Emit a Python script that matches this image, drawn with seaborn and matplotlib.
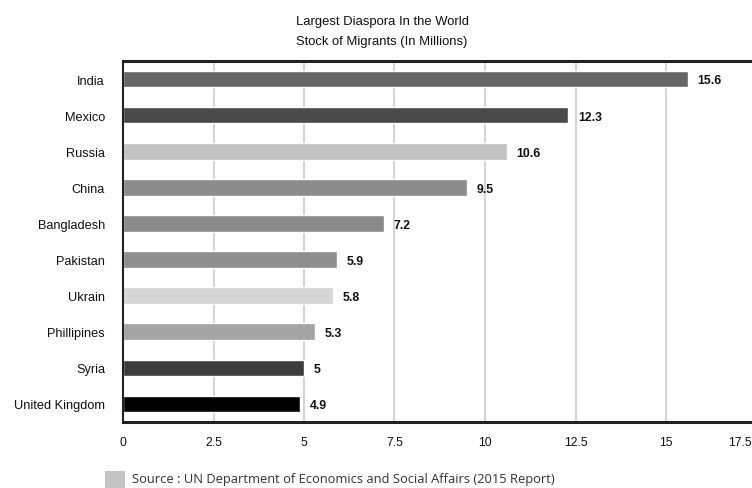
import matplotlib
matplotlib.use("Agg")
import matplotlib.pyplot as plt
from matplotlib.patches import Rectangle
from matplotlib.transforms import ScaledTranslation
import seaborn as sns
import pandas as pd
import numpy as np

countries = ["India", "Mexico", "Russia", "China", "Bangladesh", "Pakistan",
             "Ukrain", "Phillipines", "Syria", "United Kingdom"]
migrants = [15.6, 12.3, 10.6, 9.5, 7.2, 5.9, 5.8, 5.3, 5, 4.9]
value_labels = ["15.6", "12.3", "10.6", "9.5", "7.2", "5.9", "5.8", "5.3", "5", "4.9"]
x_ticks = [0, 2.5, 5, 7.5, 10, 12.5, 15, 17.5]
x_tick_labels = ["0", "2.5", "5", "7.5", "10", "12.5", "15", "17.5"]
bar_colors = ["#666666", "#4a4a4a", "#c2c2c2", "#8c8c8c", "#8a8a8a", "#8e8e8e",
              "#d6d6d6", "#a4a4a4", "#3d3d3d", "#000000"]

title_lines = ["Largest Diaspora In the World", "Stock of Migrants (In Millions)"]
source_text = "Source : UN Department of Economics and Social Affairs (2015 Report)"

df = pd.DataFrame({"country": countries, "value": migrants})

sns.set_style("white")
plt.rcParams["font.family"] = ["Liberation Sans", "DejaVu Sans"]

W, H = 752, 489
fig = plt.figure(figsize=(W / 100, H / 100), dpi=100)
ax = fig.add_axes([123 / W, 1 - 423 / H, (756.5 - 123) / W, (423 - 62) / H])

sns.barplot(data=df, y="country", x="value", hue="country", palette=bar_colors,
            order=countries, hue_order=countries, legend=False, width=0.46,
            orient="h", ax=ax, saturation=1)

ax.set_xlim(0, 17.5)
ax.set_ylim(len(countries) - 0.5, -0.5)
ax.set_xticks(x_ticks)
ax.set_xticklabels(x_tick_labels, fontsize=8.8, color="#111111")
ax.tick_params(axis="x", length=4, color="#cccccc", pad=6)
last = ax.get_xticklabels()[-1]
last.set_transform(last.get_transform() + ScaledTranslation(-17 / 100, 0, fig.dpi_scale_trans))
ax.set_yticks(range(len(countries)))
ax.set_yticklabels(countries, fontsize=9.2, color="#111111")
ax.tick_params(axis="y", which="major", length=0, pad=13)
ax.set_yticks(np.arange(-0.5, len(countries), 1), minor=True)
ax.tick_params(axis="y", which="minor", length=6, color="#dddddd", width=1)
ax.set_xlabel("")
ax.set_ylabel("")

ax.grid(axis="x", color="#cccccc", linewidth=1.2)
ax.set_axisbelow(True)

for side in ["top", "bottom"]:
    ax.spines[side].set_linewidth(2.2)
    ax.spines[side].set_color("#222222")
ax.spines["left"].set_linewidth(1.5)
ax.spines["left"].set_color("#222222")
ax.spines["right"].set_visible(False)

for i, (v, lab) in enumerate(zip(migrants, value_labels)):
    ax.annotate(lab, xy=(v, i), xytext=(7, -1), textcoords="offset points",
                va="center", ha="left", fontsize=8.8, fontweight="bold",
                color="#111111")

fig.text(382 / W, 1 - 22 / H, title_lines[0], ha="center", va="center",
         fontsize=9.4, color="#111111")
fig.text(382 / W, 1 - 42 / H, title_lines[1], ha="center", va="center",
         fontsize=9.4, color="#111111")

fig.add_artist(Rectangle((105 / W, 0), 20 / W, 17 / H, transform=fig.transFigure,
                         facecolor="#c4c4c4", edgecolor="none"))
fig.text(132 / W, 1 - 480 / H, source_text, ha="left", va="center",
         fontsize=9.3, color="#333333", family=["Open Sans", "DejaVu Sans"])

fig.savefig("out.png", dpi=100)
